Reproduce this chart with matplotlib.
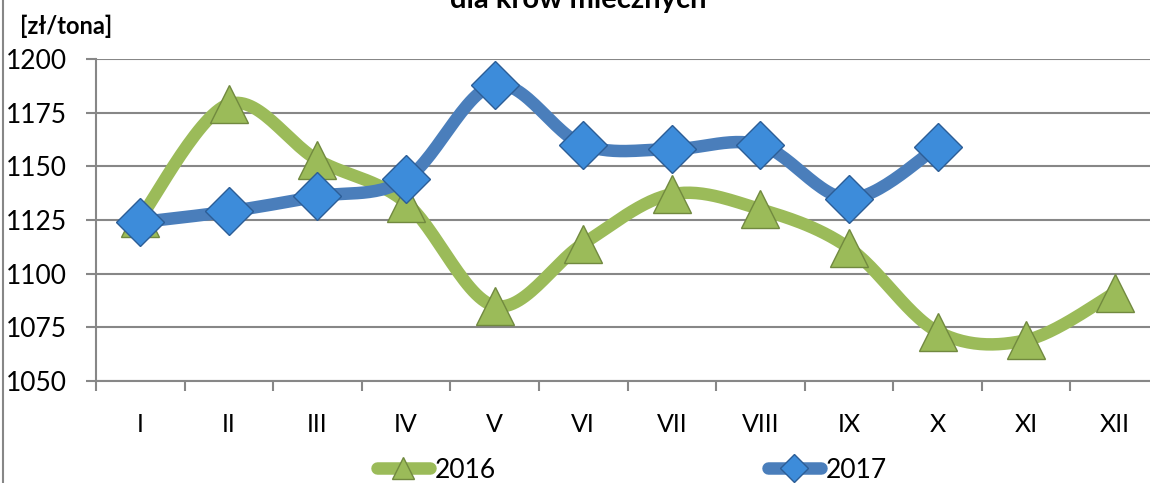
import numpy as np
import matplotlib
matplotlib.use("Agg")
import matplotlib.pyplot as plt
from matplotlib.lines import Line2D

months = ["I", "II", "III", "IV", "V", "VI", "VII", "VIII", "IX", "X", "XI", "XII"]
v2016 = [1126, 1179, 1153, 1133, 1085, 1114, 1137, 1130, 1112, 1073, 1069, 1091]
v2017 = [1124, 1129, 1136, 1144, 1188, 1160, 1158, 1160, 1135, 1159]
yticks = [1050, 1075, 1100, 1125, 1150, 1175, 1200]

GREEN = "#9BBB59"
GREEN_E = "#71893F"
BLUE = "#4A7EBB"
BLUE_M = "#3D8CDA"
BLUE_E = "#2C5D96"
GRID = "#878787"

plt.rcParams["font.family"] = ["Lato", "DejaVu Sans"]


def smooth(x, y, n=30):
    x = np.asarray(x, float)
    y = np.asarray(y, float)
    px = np.concatenate([[x[0]], x, [x[-1]]])
    py = np.concatenate([[y[0]], y, [y[-1]]])
    xs, ys = [], []
    for i in range(1, len(px) - 2):
        p0, p1, p2, p3 = (px[i-1], py[i-1]), (px[i], py[i]), (px[i+1], py[i+1]), (px[i+2], py[i+2])
        c1 = (p1[0] + (p2[0] - p0[0]) / 6, p1[1] + (p2[1] - p0[1]) / 6)
        c2 = (p2[0] - (p3[0] - p1[0]) / 6, p2[1] - (p3[1] - p1[1]) / 6)
        t = np.linspace(0, 1, n)
        bx = (1-t)**3*p1[0] + 3*(1-t)**2*t*c1[0] + 3*(1-t)*t**2*c2[0] + t**3*p2[0]
        by = (1-t)**3*p1[1] + 3*(1-t)**2*t*c1[1] + 3*(1-t)*t**2*c2[1] + t**3*p2[1]
        xs.append(bx)
        ys.append(by)
    return np.concatenate(xs), np.concatenate(ys)


W, H = 1150, 483
fig = plt.figure(figsize=(W/100, H/100), dpi=100)
fig.patch.set_facecolor("white")

x_left, x_right = 96, 1159
y_top, y_bot = 59, 381
ax = fig.add_axes([x_left/W, (H-y_bot)/H, (x_right-x_left)/W, (y_bot-y_top)/H])
ax.set_xlim(0.5, 12.5)
ax.set_ylim(1050, 1200)

for s in ["top", "right"]:
    ax.spines[s].set_visible(False)
for s in ["left", "bottom"]:
    ax.spines[s].set_color(GRID)
    ax.spines[s].set_linewidth(1.5)

ax.set_yticks(yticks)
ax.set_yticklabels([str(v) for v in yticks], fontsize=19)
ax.yaxis.grid(True, color=GRID, linewidth=1.5)
ax.set_axisbelow(True)
ax.tick_params(axis="y", length=7, width=1.5, color=GRID, pad=14)

xpos = np.arange(1, 13)
ax.set_xticks(np.arange(0.5, 13, 1.0))
ax.set_xticklabels([])
ax.set_xticks(xpos, minor=True)
ax.set_xticklabels(months, minor=True, fontsize=18)
ax.tick_params(axis="x", which="major", length=7, width=1.5, color=GRID, direction="out")
ax.tick_params(axis="x", which="minor", length=0, pad=23)

sx, sy = smooth(xpos, v2016)
ax.plot(sx, sy, color=GREEN, linewidth=9, solid_capstyle="round", zorder=3)
ax.plot(xpos, v2016, linestyle="none", marker="^", markersize=28,
        markerfacecolor=GREEN, markeredgecolor=GREEN_E, markeredgewidth=1, zorder=4, clip_on=False)

x17 = xpos[:len(v2017)]
sx, sy = smooth(x17, v2017)
ax.plot(sx, sy, color=BLUE, linewidth=9, solid_capstyle="round", zorder=5)
ax.plot(x17, v2017, linestyle="none", marker="D", markersize=24,
        markerfacecolor=BLUE_M, markeredgecolor=BLUE_E, markeredgewidth=1, zorder=6, clip_on=False)

h1 = Line2D([], [], color=GREEN, linewidth=9, solid_capstyle="round", marker="^", markersize=16,
            markerfacecolor=GREEN, markeredgecolor=GREEN_E)
h2 = Line2D([], [], color=BLUE, linewidth=9, solid_capstyle="round", marker="D", markersize=14,
            markerfacecolor=BLUE_M, markeredgecolor=BLUE_E)
fig.legend([h1, h2], ["2016", "2017"], loc="center", bbox_to_anchor=(632/W, (H-470)/H),
           ncol=2, frameon=False, fontsize=19, handlelength=2.0, handletextpad=0.2,
           columnspacing=10.3)

fig.text(578/W, (H-8)/H, "dla krów mlecznych", ha="center", va="baseline",
         fontsize=21, fontweight="bold")
fig.text(20/W, (H-34)/H, "[zł/tona]", ha="left", va="baseline", fontsize=17, fontweight="bold")

fig.add_artist(Line2D([3/W, 3/W], [0, 1], color=GRID, linewidth=1.5))

fig.savefig("out.png", dpi=100)
